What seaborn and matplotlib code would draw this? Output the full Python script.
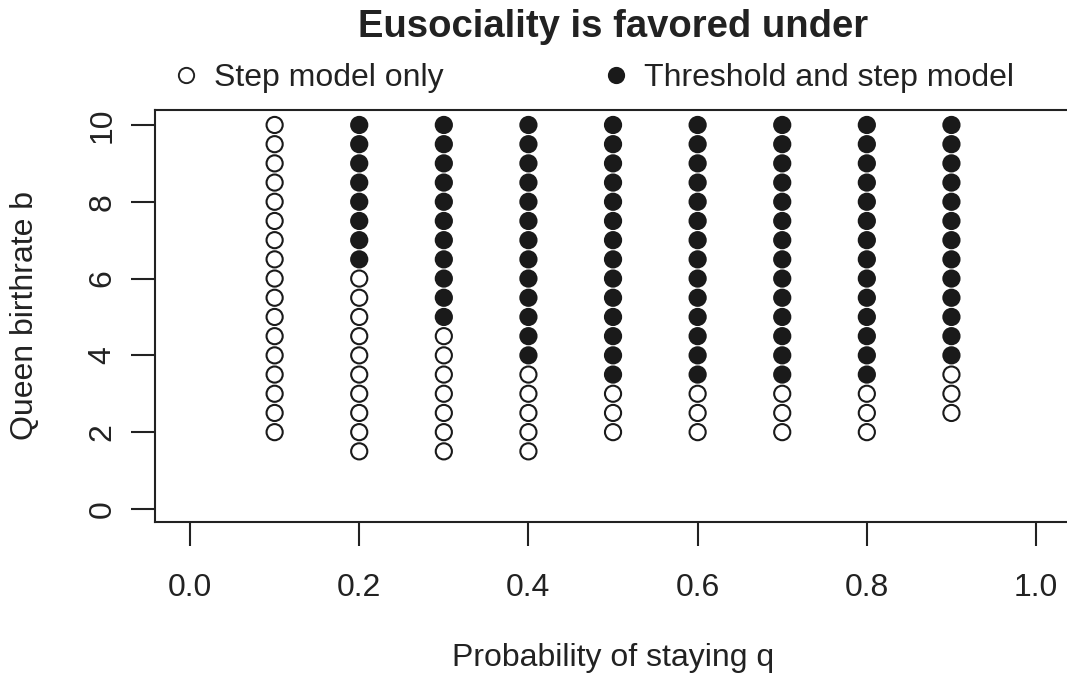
import numpy as np
import pandas as pd
import matplotlib
matplotlib.use("Agg")
import matplotlib.pyplot as plt
from matplotlib.lines import Line2D
import seaborn as sns

# Data
q_values = [0.1, 0.2, 0.3, 0.4, 0.5, 0.6, 0.7, 0.8, 0.9]
b_lowest = [2.0, 1.5, 1.5, 1.5, 2.0, 2.0, 2.0, 2.0, 2.5]      # lowest b where eusociality is favored (step model)
b_threshold = [None, 6.5, 5.0, 4.0, 3.5, 3.5, 3.5, 3.5, 4.0]  # lowest b where threshold model also favors it
b_highest = 10.0
b_step = 0.5
labels = ["Step model only", "Threshold and step model"]
x_ticks = [0.0, 0.2, 0.4, 0.6, 0.8, 1.0]
y_ticks = [0, 2, 4, 6, 8, 10]

rows = []
for q, lo, th in zip(q_values, b_lowest, b_threshold):
    for b in np.arange(lo, b_highest + 1e-9, b_step):
        kind = labels[1] if (th is not None and b >= th - 1e-9) else labels[0]
        rows.append({"q": q, "b": b, "kind": kind})
df = pd.DataFrame(rows)

sns.set_theme(style="white")
plt.rcParams["font.family"] = ["Liberation Sans", "DejaVu Sans"]

INK = "#222222"
fig = plt.figure(figsize=(10.67, 6.74), dpi=100)
ax = fig.add_axes([155 / 1067, 1 - 522 / 674, 912 / 1067, (522 - 110) / 674])

sns.scatterplot(data=df, x="q", y="b", hue="kind", hue_order=labels,
                palette={labels[0]: "white", labels[1]: "#1a1a1a"},
                edgecolor="#1a1a1a", linewidth=1.5, s=135, legend=False, ax=ax)

ax.set_xlim(-0.0414, 1.0366)
ax.set_ylim(-0.34, 10.39)
ax.set_xticks(x_ticks)
ax.set_xticklabels([f"{v:.1f}" for v in x_ticks])
ax.set_yticks(y_ticks)
ax.set_yticklabels([str(v) for v in y_ticks], rotation=90, va="center")
ax.tick_params(axis="both", bottom=True, left=True, direction="out", length=17, width=1.5,
               colors=INK, labelsize=23, labelcolor=INK)
ax.tick_params(axis="x", pad=20)
ax.tick_params(axis="y", pad=10)
for side in ["left", "top", "bottom"]:
    ax.spines[side].set_color(INK)
    ax.spines[side].set_linewidth(1.5)
ax.spines["right"].set_visible(False)

ax.set_xlabel("Probability of staying q", fontsize=23, color=INK)
ax.set_ylabel("Queen birthrate b", fontsize=23, color=INK)
ax.xaxis.set_label_coords(613 / 1067, 1 - 658 / 674, transform=fig.transFigure)
ax.yaxis.set_label_coords(25 / 1067, 1 - 316 / 674, transform=fig.transFigure)
ax.xaxis.label.set_va("center")
ax.yaxis.label.set_va("center")

fig.text(0.575, 1 - 27 / 674, "Eusociality is favored under", ha="center", va="center",
         fontsize=27.5, fontweight="bold", color=INK)

handles = [
    Line2D([], [], marker="o", linestyle="", markersize=11, markerfacecolor="white",
           markeredgecolor=INK, markeredgewidth=1.4),
    Line2D([], [], marker="o", linestyle="", markersize=11, markerfacecolor="#1a1a1a",
           markeredgecolor="#1a1a1a", markeredgewidth=1.4),
]
fig.legend(handles, labels, loc="center", bbox_to_anchor=(0.555, 1 - 78 / 674), ncol=2,
           frameon=False, fontsize=23, handlelength=1.0, handletextpad=0.38,
           columnspacing=4.9, labelcolor=INK, borderpad=0, borderaxespad=0)

fig.savefig("out.png", dpi=100)
